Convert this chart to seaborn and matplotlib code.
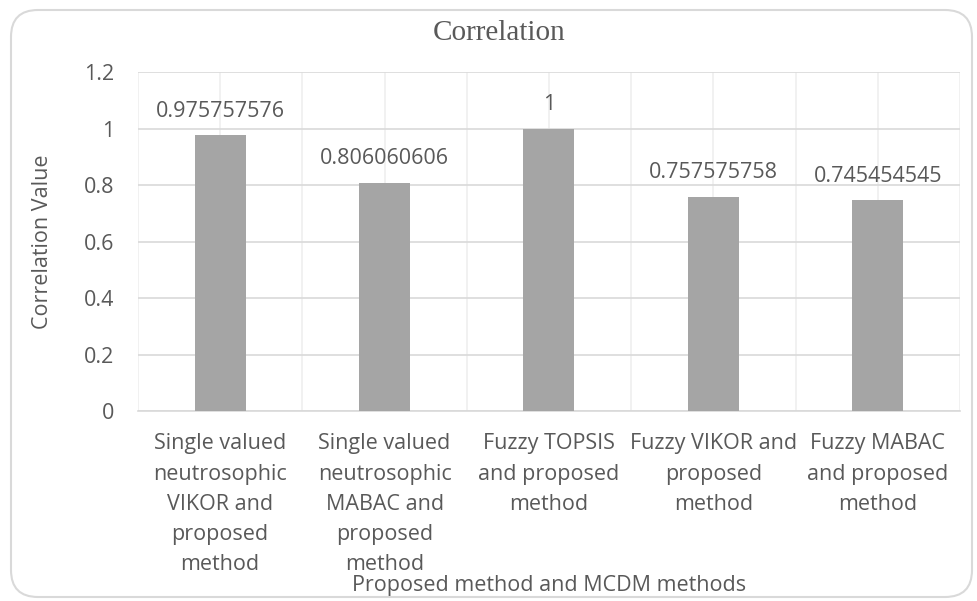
"""
Correlation of the proposed method with other MCDM methods
"""
import numpy as np
import matplotlib.pyplot as plt
from matplotlib.patches import FancyBboxPatch
import seaborn as sns

methods = ['Single valued\nneutrosophic\nVIKOR and\nproposed\nmethod',
           'Single valued\nneutrosophic\nMABAC and\nproposed\nmethod',
           'Fuzzy TOPSIS\nand proposed\nmethod',
           'Fuzzy VIKOR and\nproposed\nmethod',
           'Fuzzy MABAC\nand proposed\nmethod']
correlation = [0.975757576, 0.806060606, 1, 0.757575758, 0.745454545]
value_labels = ['0.975757576', '0.806060606', '1', '0.757575758', '0.745454545']

sns.set_style('white')
plt.rcParams['font.family'] = ['Open Sans', 'DejaVu Sans']
text_col = '#595959'
fs = 15.5

fig = plt.figure(figsize=(9.77, 6.01), dpi=100)
ax = fig.add_axes([0.1412, 0.3161, 0.8414, 0.5639])

sns.barplot(x=methods, y=correlation, color='#A5A5A5', width=0.31,
            saturation=1, linewidth=0, ax=ax, zorder=3)

ax.set_xlim(-0.5, 4.5)
ax.set_ylim(0, 1.2)
ax.set_yticks(np.arange(0, 1.21, 0.2))
ax.set_yticklabels(['0', '0.2', '0.4', '0.6', '0.8', '1', '1.2'])
ax.set_xticks(np.arange(-0.5, 4.6, 1), minor=True)

ax.grid(axis='y', color='#D9D9D9', lw=1.2, zorder=0)
ax.grid(axis='x', which='both', color='#EFEFEF', lw=1.2, zorder=0)
ax.set_axisbelow(True)
for s in ['top', 'right', 'left']:
    ax.spines[s].set_visible(False)
ax.spines['bottom'].set_color('#D9D9D9')
ax.spines['bottom'].set_linewidth(1.2)

ax.tick_params(axis='both', which='both', length=0, colors=text_col, labelsize=fs)
ax.tick_params(axis='y', pad=17)
ax.tick_params(axis='x', pad=16)
for t in ax.get_xticklabels():
    t.set_linespacing(1.58)

for i, (v, lab) in enumerate(zip(correlation, value_labels)):
    ax.annotate(lab, (i, v), xytext=(0, 10), textcoords='offset points',
                ha='center', va='bottom', fontsize=fs, color=text_col)

ax.set_ylabel('Correlation Value', fontsize=fs, color=text_col, labelpad=22)
ax.set_xlabel('Proposed method and MCDM methods', fontsize=fs, color=text_col,
              labelpad=0)

fig.text(499 / 977, 1 - 33 / 601, 'Correlation', ha='center', va='center',
         fontsize=21, color=text_col, family='Liberation Serif')

fig.patches.append(FancyBboxPatch((11, 4), 961, 587, transform=None,
                                  boxstyle='round,pad=0,rounding_size=27',
                                  fc='none', ec='#D9D9D9', lw=1.5))

fig.savefig('out.png', dpi=100)
